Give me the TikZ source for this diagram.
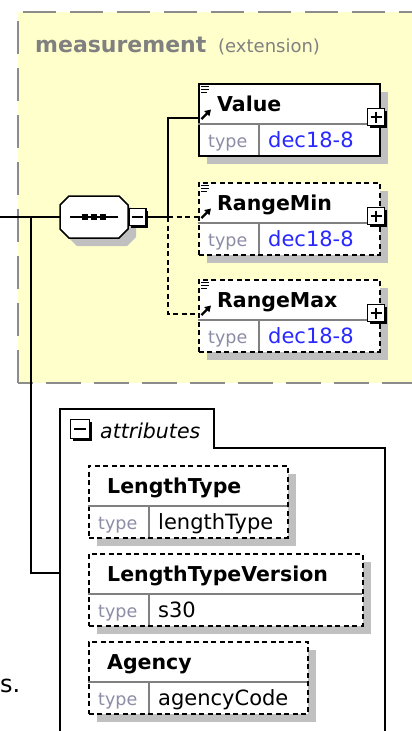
\documentclass[tikz,border=0pt]{standalone}
\usepackage{fontspec}
\setmainfont{DejaVu Sans}
\usetikzlibrary{positioning,shadows,arrows.meta}
\definecolor{extbg}{RGB}{255,255,204}
\definecolor{extline}{RGB}{140,140,140}
\definecolor{shade}{RGB}{192,192,192}
\definecolor{refblue}{RGB}{40,40,255}
\definecolor{typegray}{RGB}{140,140,165}
\definecolor{divgray}{RGB}{128,128,128}
\begin{document}
\begin{tikzpicture}[x=1pt,y=-1pt]
	\tikzset{
		grayshadow/.style={drop shadow={shadow xshift=8pt,shadow yshift=-8pt,fill=shade,opacity=1}},
		elem/.style={draw,line width=1.5pt,fill=white,anchor=north west,inner sep=0pt,grayshadow},
		required/.style={},
		optional/.style={dash pattern=on 5pt off 3.5pt},
		divider/.style={draw=divgray,line width=1.3pt},
		elemname/.style={anchor=base west,inner sep=0pt,font=\bfseries\fontsize{20.5}{20}\selectfont},
		typelabel/.style={anchor=base west,inner sep=0pt,text=typegray,font=\fontsize{17.5}{18}\selectfont},
		typeref/.style={anchor=base west,inner sep=0pt,text=refblue,font=\fontsize{21}{21}\selectfont},
		typeplain/.style={anchor=base west,inner sep=0pt,font=\fontsize{21}{21}\selectfont},
		expander/.style={draw,line width=1.5pt,fill=white,minimum size=17pt,inner sep=0pt,
			drop shadow={shadow xshift=2.5pt,shadow yshift=-2.5pt,fill=black,opacity=1}},
		conn/.style={line width=1.5pt}
	}
	\useasboundingbox (0,0) rectangle (412,731);

	\fill[extbg] (18,12) rectangle (430,383);
	\draw[extline,line width=2pt,dash pattern=on 33pt off 14pt] (18,383) -- (18,12) -- (430,12);
	\draw[extline,line width=2pt,dash pattern=on 35pt off 13pt,dash phase=20pt] (18,383) -- (430,383);
	\node[anchor=base west,inner sep=0pt,text=divgray,font=\bfseries\fontsize{22}{22}\selectfont] (extname) at (35,52) {measurement};
	\node[anchor=base west,inner sep=0pt,text=divgray,font=\fontsize{18}{18}\selectfont] (extkind) at (218,52) {(extension)};

	\foreach \elid/\x/\y/\w/\st/\nm/\val/\vst in {
		value/198/83/181/required/Value/dec18-8/typeref,
		rangemin/198/182/181/optional/RangeMin/dec18-8/typeref,
		rangemax/198/279/181/optional/RangeMax/dec18-8/typeref,
		lengthtype/88/465/199/optional/LengthType/lengthType/typeplain,
		lengthtypeversion/88/553/274/optional/LengthTypeVersion/s30/typeplain,
		agency/88/641/219/optional/Agency/agencyCode/typeplain}{
		\node[elem,\st,minimum width=\w pt,minimum height=72pt] (\elid) at (\x,\y) {};
		\draw[divider] (\x,\y+41) -- (\x+\w,\y+41) (\x+61,\y+41) -- (\x+61,\y+72);
		\node[elemname] at (\x+19,\y+28.5) {\nm};
		\node[typelabel] at (\x+10,\y+64) {type};
		\node[\vst] at (\x+70,\y+64) {\val};
	}

	\foreach \elid/\y in {value/83,rangemin/182,rangemax/279}{
		\coordinate (\elid-in) at (198,\y+35);
		\draw[line width=1.2pt] (201,\y+3.5) -- (209,\y+3.5) (201,\y+6.5) -- (209,\y+6.5) (201,\y+9.5) -- (207,\y+9.5);
		\draw[line width=2.2pt,-{Triangle[length=6pt,width=7pt]}] (201.5,\y+36) -- (211,\y+26.5);
		\node[expander] (\elid-plus) at (376,\y+34) {};
		\draw[line width=1.5pt] (\elid-plus.center) +(-5.5,0) -- +(5.5,0) +(0,-5.5) -- +(0,5.5);
	}

	\node[minimum width=68pt,minimum height=42pt,inner sep=0pt] (seq) at (94,217) {};
	\filldraw[fill=white,line width=1.5pt,grayshadow] (69,196) -- (119,196) -- (128,205) -- (128,229)
		-- (119,238) -- (69,238) -- (60,229) -- (60,205) -- cycle;
	\draw[line width=1.3pt] ([xshift=-24pt]seq.center) -- ([xshift=24pt]seq.center);
	\foreach \d in {-9,0,9}
		\fill ([xshift=\d pt]seq.center) +(-2.8,-2.8) rectangle +(2.8,2.8);
	\node[expander,anchor=west] (seqminus) at (seq.east) {};
	\draw[line width=1.5pt] (seqminus.center) +(-5.5,0) -- +(5.5,0);

	\coordinate (start) at (0,217);
	\coordinate (branch) at (31,217);
	\coordinate (fork) at (168,217);
	\coordinate (attr-in) at (60,573);
	\draw[conn] (start) -- (seq.west);
	\draw[conn] (branch) |- (attr-in);
	\draw[conn] (seqminus.east) -- (fork);
	\draw[conn] (fork) |- (value-in);
	\draw[conn,optional] (fork) -- (rangemin-in);
	\draw[conn,optional] (fork) |- (rangemax-in);

	\draw[line width=1.6pt] (60,740) -- (60,409) -- (214,409) -- (214,448) -- (385,448) -- (385,740);
	\node[expander,minimum size=19pt] (attrminus) at (80,429) {};
	\draw[line width=1.5pt] (attrminus.center) +(-6,0) -- +(6,0);
	\node[anchor=base west,inner sep=0pt,font=\itshape\fontsize{20.5}{20}\selectfont] (attrlabel) at (100,438) {attributes};

	\node[anchor=base west,inner sep=0pt,font=\fontsize{24}{24}\selectfont] (cut) at (0,692) {s.};
\end{tikzpicture}
\end{document}
